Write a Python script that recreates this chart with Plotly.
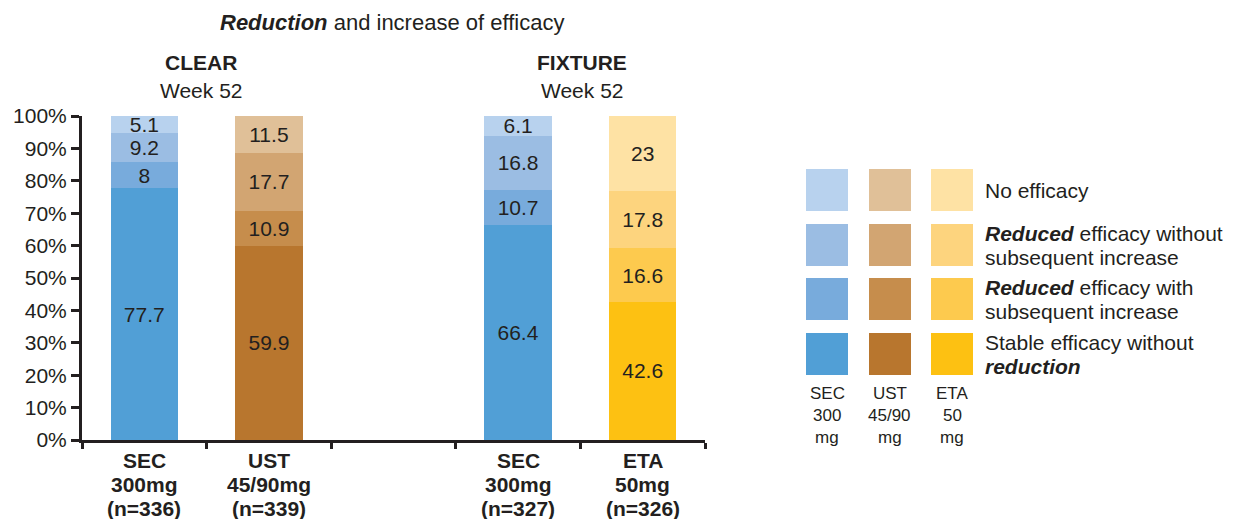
import plotly.graph_objects as go

# Treatment arms (position 2 is an empty spacer between the two studies)
arm_positions = [0, 1, 3, 4]
arm_drugs = ["SEC", "UST", "SEC", "ETA"]
arm_doses = ["300mg", "45/90mg", "300mg", "50mg"]
arm_n = ["(n=336)", "(n=339)", "(n=327)", "(n=326)"]

# Percent of patients per efficacy pattern, stacked bottom to top
stable = [77.7, 59.9, 66.4, 42.6]
reduced_with_increase = [8, 10.9, 10.7, 16.6]
reduced_without_increase = [9.2, 17.7, 16.8, 17.8]
no_efficacy = [5.1, 11.5, 6.1, 23]

segment_names = [
    "Stable efficacy without reduction",
    "Reduced efficacy with subsequent increase",
    "Reduced efficacy without subsequent increase",
    "No efficacy",
]
segment_values = [stable, reduced_with_increase, reduced_without_increase, no_efficacy]

# Colour ramps per drug: SEC blue, UST brown, ETA yellow (stable -> no efficacy)
sec_colors = ["#519fd6", "#78abdc", "#9bbde3", "#b8d2ee"]
ust_colors = ["#b8762e", "#c68d4c", "#d2a572", "#e0c098"]
eta_colors = ["#fdc112", "#fdca4e", "#fdd47e", "#fee2a4"]
bar_palettes = [sec_colors, ust_colors, sec_colors, eta_colors]

FONT = "Arial, Liberation Sans, sans-serif"
INK = "#231f20"

W, H = 1236, 519
L, R, T, B = 82, 705, 116, 440  # plot area in pixels


def px(x):
    return (x - L) / (R - L)


def py(y):
    return (B - y) / (B - T)


fig = go.Figure()
for i, (name, vals) in enumerate(zip(segment_names, segment_values)):
    fig.add_trace(go.Bar(
        x=arm_positions,
        y=vals,
        name=name,
        width=0.54,
        marker=dict(color=[p[i] for p in bar_palettes], line=dict(width=0)),
        text=[f"{v:g}" for v in vals],
        textposition="inside",
        insidetextanchor="middle",
        textangle=0,
        textfont=dict(family=FONT, size=21, color=INK),
        showlegend=False,
        hoverinfo="skip",
    ))

fig.update_layout(
    width=W, height=H,
    margin=dict(l=L, r=W - R, t=T, b=H - B),
    paper_bgcolor="white", plot_bgcolor="white",
    barmode="stack",
    font=dict(family=FONT, color=INK),
    uniformtext=dict(minsize=21, mode="show"),
    xaxis=dict(range=[-0.5, 4.5], tickmode="linear", tick0=-0.5, dtick=1,
               showticklabels=False, ticks="outside", ticklen=6, tickwidth=3,
               tickcolor=INK, showline=True, linewidth=3, linecolor=INK,
               showgrid=False, zeroline=False, fixedrange=True),
    yaxis=dict(range=[0, 100], tickmode="linear", tick0=0, dtick=10,
               ticksuffix="%", ticks="outside", ticklen=8, tickwidth=3,
               tickcolor=INK, showline=True, linewidth=3, linecolor=INK,
               showgrid=False, zeroline=False,
               tickfont=dict(family=FONT, size=21, color=INK), fixedrange=True),
)

annotations = [
    dict(x=px(392), y=py(22), text="<b><i>Reduction</i></b> and increase of efficacy",
         font=dict(size=22)),
    dict(x=px(201), y=py(63), text="<b>CLEAR</b>", font=dict(size=21)),
    dict(x=px(201), y=py(90), text="Week 52", font=dict(size=21)),
    dict(x=px(582), y=py(63), text="<b>FIXTURE</b>", font=dict(size=21)),
    dict(x=px(582), y=py(90), text="Week 52", font=dict(size=21)),
]

# Category labels under each bar, one line at a time for tight spacing
for xpos, drug, dose, n in zip(arm_positions, arm_drugs, arm_doses, arm_n):
    for yline, txt in zip([460, 484, 508], [drug, dose, n]):
        annotations.append(dict(x=xpos, xref="x", y=py(yline), text=f"<b>{txt}</b>",
                                font=dict(size=21)))

# Legend: a grid of swatches (one column per drug) with row descriptions
legend_cols = [827, 890, 952]
legend_rows = [190, 245, 299, 354]  # top row = no efficacy
legend_text = [
    ["No efficacy"],
    ["<b><i>Reduced</i></b> efficacy without", "subsequent increase"],
    ["<b><i>Reduced</i></b> efficacy with", "subsequent increase"],
    ["Stable efficacy without", "<b><i>reduction</i></b>"],
]
legend_palettes = [sec_colors, ust_colors, eta_colors]
shapes = []
for r, yc in enumerate(legend_rows):
    seg = 3 - r
    for c, xc in enumerate(legend_cols):
        shapes.append(dict(type="rect", xref="paper", yref="paper",
                           x0=px(xc - 21), x1=px(xc + 21),
                           y0=py(yc + 21), y1=py(yc - 21),
                           fillcolor=legend_palettes[c][seg], line=dict(width=0),
                           layer="above"))
    lines = legend_text[r]
    offsets = [0] if len(lines) == 1 else [-12, 12]
    for off, txt in zip(offsets, lines):
        annotations.append(dict(x=px(984), y=py(yc + off), text=txt, xanchor="left",
                                align="left", font=dict(size=21)))

for xc, lab in zip(legend_cols, [["SEC", "300", "mg"], ["UST", "45/90", "mg"], ["ETA", "50", "mg"]]):
    for yline, txt in zip([393, 415, 437], lab):
        annotations.append(dict(x=px(xc), y=py(yline), text=txt, font=dict(size=17)))

for a in annotations:
    a.setdefault("xref", "paper")
    a.update(yref="paper", showarrow=False, borderpad=0)
    a.setdefault("xanchor", "center")
    a.setdefault("yanchor", "middle")
    a["font"].update(family=FONT, color=INK)

fig.update_layout(annotations=annotations, shapes=shapes)

fig.write_html("out.html")
